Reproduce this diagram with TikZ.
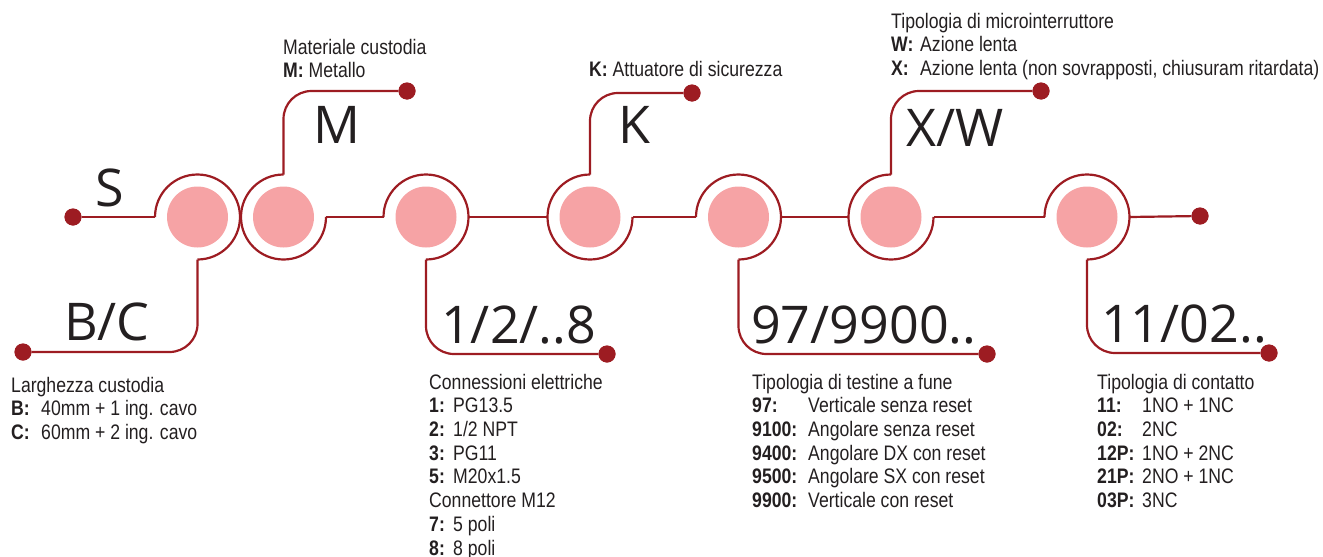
\documentclass[tikz,border=0pt]{standalone}
\usepackage{fontspec}
\setmainfont{Liberation Sans}[FakeStretch=0.84]
\newfontfamily\bigfont{Open Sans}
\definecolor{lred}{HTML}{9D1C22}
\definecolor{pinkf}{HTML}{F6A3A5}
\definecolor{ink}{HTML}{231F20}
\newcommand\lb[2]{\makebox[#1][l]{\bfseries #2}}
\begin{document}
\begin{tikzpicture}[x=1pt,y=-1pt,
  ring/.style={circle, minimum size=85pt, inner sep=0pt, outer sep=0pt, draw=none},
  core/.style={circle, fill=pinkf, minimum size=61pt, inner sep=0pt},
  dotn/.style={circle, fill=lred, minimum size=17pt, inner sep=0pt},
  wire/.style={draw=lred, line width=2.2pt},
  elbow/.style={wire, rounded corners=28pt},
  biglbl/.style={font=\bigfont\fontsize{52}{52}\selectfont, text=ink, inner sep=0pt, anchor=base west},
  info/.style={font=\fontsize{21}{23.7}\selectfont, text=ink, inner sep=0pt, anchor=north west, align=left}]
\useasboundingbox (0,0) rectangle (1323,557);
% ring positions
\node[ring] (r1) at (197.5,217) {};
\node[ring] (r2) at (283.5,217) {};
\node[ring] (r3) at (426,217) {};
\node[ring] (r4) at (590,217) {};
\node[ring] (r5) at (738.5,217) {};
\node[ring] (r6) at (891,217) {};
\node[ring] (r7) at (1087,217) {};
% dots
\node[dotn] (dS) at (73,217) {};
\node[dotn] (dBC) at (23,352) {};
\node[dotn] (dM) at (407,91) {};
\node[dotn] (dCon) at (607,354) {};
\node[dotn] (dK) at (692,93) {};
\node[dotn] (dT) at (987,354) {};
\node[dotn] (dXW) at (1041,91) {};
\node[dotn] (dC) at (1269,353) {};
\node[dotn] (dEnd) at (1200,216) {};
% wires
\draw[wire] (dS) -- (r1.west);
\draw[wire] (r1.west) arc[start angle=180, end angle=-90, radius=42.5pt];
\draw[elbow] (r1.south) |- (dBC);
\draw[wire] (r2.north) arc[start angle=90, end angle=360, radius=42.5pt];
\draw[elbow] (r2.north) |- (dM);
\draw[wire] (r2.east) -- (r3.west);
\draw[wire] (r3.west) arc[start angle=180, end angle=-90, radius=42.5pt];
\draw[elbow] (r3.south) |- (dCon);
\draw[wire] (r3.east) -- (r4.west);
\draw[wire] (r4.north) arc[start angle=90, end angle=360, radius=42.5pt];
\draw[elbow] (r4.north) |- (dK);
\draw[wire] (r4.east) -- (r5.west);
\draw[wire] (r5.west) arc[start angle=180, end angle=-90, radius=42.5pt];
\draw[elbow] (r5.south) |- (dT);
\draw[wire] (r5.east) -- (r6.west);
\draw[wire] (r6.north) arc[start angle=90, end angle=360, radius=42.5pt];
\draw[elbow] (r6.north) |- (dXW);
\draw[wire] (r6.east) -- (r7.west);
\draw[wire] (r7.west) arc[start angle=180, end angle=-90, radius=42.5pt];
\draw[elbow] (r7.south) |- (dC);
\draw[wire] (r7.east) -- (dEnd);
% dots on top of wires
\foreach \d in {dS,dBC,dM,dCon,dK,dT,dXW,dC,dEnd} \fill[lred] (\d) circle[radius=8.5pt];
% cores
\node[core] (c1) at (r1) {};
\node[core] (c2) at (r2) {};
\node[core] (c3) at (r3) {};
\node[core] (c4) at (r4) {};
\node[core] (c5) at (r5) {};
\node[core] (c6) at (r6) {};
\node[core] (c7) at (r7) {};
% big labels
\node[biglbl] (lS) at (95,206) {S};
\node[biglbl] (lM) at (313,143) {M};
\node[biglbl] (lK) at (618,143) {K};
\node[biglbl] (lXW) at (906,146) {X/W};
\node[biglbl] (lBC) at (64,340) {B/C};
\node[biglbl] (lCon) at (441,343) {1/2/..8};
\node[biglbl] (lT) at (751,343) {97/9900..};
\node[biglbl] (lC) at (1101,342) {11/02..};
% info texts
\node[info] (tMat) at (283,37.4) {\strut Materiale custodia\\ \textbf{M:} Metallo};
\node[info] (tK) at (589,59.4) {\strut\textbf{K:} Attuatore di sicurezza};
\node[info] (tMic) at (891,11.4) {\strut Tipologia di microinterruttore\\
  \lb{29pt}{W:}Azione lenta\\
  \lb{29pt}{X:}Azione lenta (non sovrapposti, chiusuram ritardata)};
\node[info] (tLar) at (11,375.4) {\strut Larghezza custodia\\
  \lb{30pt}{B:}40mm + 1 ing. cavo\\
  \lb{30pt}{C:}60mm + 2 ing. cavo};
\node[info] (tCon) at (429,372.4) {\strut Connessioni elettriche\\
  \lb{24pt}{1:}PG13.5\\
  \lb{24pt}{2:}1/2 NPT\\
  \lb{24pt}{3:}PG11\\
  \lb{24pt}{5:}M20x1.5\\
  Connettore M12\\
  \lb{24pt}{7:}5 poli\\
  \lb{24pt}{8:}8 poli};
\node[info] (tTes) at (752,372.4) {\strut Tipologia di testine a fune\\
  \lb{56pt}{97:}Verticale senza reset\\
  \lb{56pt}{9100:}Angolare senza reset\\
  \lb{56pt}{9400:}Angolare DX con reset\\
  \lb{56pt}{9500:}Angolare SX con reset\\
  \lb{56pt}{9900:}Verticale con reset};
\node[info] (tCnt) at (1097,372.4) {\strut Tipologia di contatto\\
  \lb{45pt}{11:}1NO + 1NC\\
  \lb{45pt}{02:}2NC\\
  \lb{45pt}{12P:}1NO + 2NC\\
  \lb{45pt}{21P:}2NO + 1NC\\
  \lb{45pt}{03P:}3NC};
\end{tikzpicture}
\end{document}
